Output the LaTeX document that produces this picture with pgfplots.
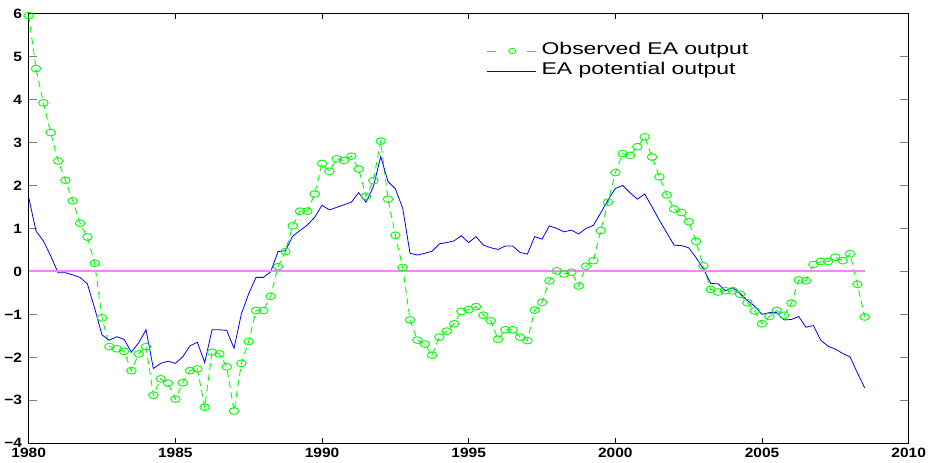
\documentclass[border=0pt]{standalone}
\usepackage{fontspec}
\setmainfont{Liberation Sans}
\usepackage{graphicx}
\usepackage{pgfplots}
\pgfplotsset{compat=1.18}
\usepackage{pgfplotstable}

\pgfplotstableread{
t obs pot
1980.00 5.95 1.72
1980.25 4.72 0.94
1980.50 3.92 0.71
1980.75 3.23 0.36
1981.00 2.57 -0.03
1981.25 2.12 -0.03
1981.50 1.64 -0.08
1981.75 1.12 -0.14
1982.00 0.80 -0.29
1982.25 0.19 -0.86
1982.50 -1.08 -1.48
1982.75 -1.75 -1.60
1983.00 -1.80 -1.52
1983.25 -1.86 -1.58
1983.50 -2.31 -1.88
1983.75 -1.92 -1.66
1984.00 -1.75 -1.36
1984.25 -2.88 -2.26
1984.50 -2.50 -2.14
1984.75 -2.60 -2.09
1985.00 -2.97 -2.14
1985.25 -2.59 -1.99
1985.50 -2.31 -1.73
1985.75 -2.27 -1.65
1986.00 -3.16 -2.12
1986.25 -1.88 -1.36
1986.50 -1.92 -1.36
1986.75 -2.22 -1.37
1987.00 -3.25 -1.79
1987.25 -2.14 -0.99
1987.50 -1.63 -0.52
1987.75 -0.91 -0.14
1988.00 -0.91 -0.14
1988.25 -0.58 -0.01
1988.50 0.11 0.46
1988.75 0.46 0.48
1989.00 1.06 0.82
1989.25 1.40 0.95
1989.50 1.40 1.08
1989.75 1.80 1.26
1990.00 2.51 1.54
1990.25 2.33 1.43
1990.50 2.62 1.49
1990.75 2.58 1.55
1991.00 2.68 1.61
1991.25 2.38 1.83
1991.50 1.75 1.61
1991.75 2.11 1.97
1992.00 3.03 2.67
1992.25 1.68 2.09
1992.50 0.84 1.92
1992.75 0.09 1.47
1993.00 -1.13 0.42
1993.25 -1.60 0.38
1993.50 -1.69 0.42
1993.75 -1.95 0.47
1994.00 -1.53 0.64
1994.25 -1.39 0.67
1994.50 -1.22 0.71
1994.75 -0.93 0.83
1995.00 -0.89 0.67
1995.25 -0.82 0.81
1995.50 -1.02 0.61
1995.75 -1.15 0.55
1996.00 -1.58 0.51
1996.25 -1.36 0.59
1996.50 -1.36 0.59
1996.75 -1.53 0.44
1997.00 -1.61 0.40
1997.25 -0.90 0.81
1997.50 -0.72 0.75
1997.75 -0.22 1.06
1998.00 0.01 1.00
1998.25 -0.06 0.92
1998.50 -0.02 0.96
1998.75 -0.34 0.87
1999.00 0.12 1.00
1999.25 0.25 1.07
1999.50 0.95 1.36
1999.75 1.61 1.66
2000.00 2.30 1.93
2000.25 2.74 2.00
2000.50 2.70 1.83
2000.75 2.90 1.68
2001.00 3.13 1.80
2001.25 2.66 1.50
2001.50 2.20 1.19
2001.75 1.78 0.90
2002.00 1.45 0.61
2002.25 1.37 0.60
2002.50 1.16 0.55
2002.75 0.70 0.32
2003.00 0.13 0.06
2003.25 -0.42 -0.28
2003.50 -0.48 -0.29
2003.75 -0.45 -0.45
2004.00 -0.45 -0.38
2004.25 -0.53 -0.51
2004.50 -0.73 -0.68
2004.75 -0.92 -0.81
2005.00 -1.22 -1.00
2005.25 -1.05 -0.96
2005.50 -0.91 -0.96
2005.75 -1.02 -1.13
2006.00 -0.74 -1.12
2006.25 -0.20 -1.05
2006.50 -0.22 -1.30
2006.75 0.16 -1.26
2007.00 0.23 -1.60
2007.25 0.23 -1.74
2007.50 0.33 -1.81
2007.75 0.25 -1.91
2008.00 0.41 -1.99
2008.25 -0.30 -2.36
2008.50 -1.06 -2.71
}\datatable

\definecolor{obsgreen}{RGB}{0,255,0}
\definecolor{potblue}{RGB}{0,0,255}
\definecolor{zeropink}{RGB}{250,130,250}
\newcommand\tl[1]{\scalebox{1.15}[1]{\bfseries #1}}
\newcommand\lgt[1]{\scalebox{1.35}[1]{#1}}
\pgfdeclareplotmark{oval}{%
  \pgfpathellipse{\pgfpointorigin}{\pgfqpoint{1.4\pgfplotmarksize}{0pt}}{\pgfqpoint{0pt}{\pgfplotmarksize}}%
  \pgfusepathqstroke}
\pgfplotsset{
  obsleg/.style={legend image code/.code={
    \draw[##1, dash pattern=on 9pt off 31pt] (0pt,0pt) -- (49pt,0pt);
    \draw[##1, mark size=2.6pt] plot coordinates {(25pt,0pt)};}},
  potleg/.style={legend image code/.code={
    \draw[##1] (0pt,0pt) -- (49pt,0pt);}},
}

\begin{document}
\begin{tikzpicture}
\useasboundingbox (0,0) rectangle (932pt,463pt);
\begin{axis}[
  at={(28.7pt,19.7pt)}, anchor=south west,
  scale only axis, width=880pt, height=429.8pt,
  xmin=1980, xmax=2010, ymin=-4, ymax=6,
  xtick={1980,1985,1990,1995,2000,2005,2010},
  ytick={-4,-3,-2,-1,0,1,2,3,4,5,6},
  xticklabels={\tl{1980},\tl{1985},\tl{1990},\tl{1995},\tl{2000},\tl{2005},\tl{2010}},
  yticklabels={\tl{−4},\tl{−3},\tl{−2},\tl{−1},\tl{0},\tl{1},\tl{2},\tl{3},\tl{4},\tl{5},\tl{6}},
  tick align=inside,
  axis line style={line width=1.1pt},
  xtick style={black, line width=0.9pt},
  ytick style={gray, line width=0.9pt},
  xtick style={/pgfplots/major tick length=5pt},
  ytick style={/pgfplots/major tick length=8.5pt},
  xticklabel style={font=\fontsize{13.5}{16}\selectfont, inner sep=0pt, yshift=-4.6pt},
  yticklabel style={font=\fontsize{13.5}{16}\selectfont, inner sep=0pt, xshift=-6.5pt},
  clip=false,
  legend cell align=left,
  legend style={at={(axis description cs:0.5205,0.9314)}, anchor=north west,
    draw=none, fill=none, inner sep=0pt, outer sep=0pt, row sep=4pt, column sep=5pt,
    font=\fontsize{17}{20}\selectfont,
    nodes={inner sep=0pt, text height=12pt, text depth=4pt}},
]
\addplot[color=obsgreen, line width=0.9pt, dash pattern=on 6.5pt off 4.5pt,
  mark=oval, mark size=3.4pt, mark options={solid}, obsleg]
  table[x=t,y=obs] {\datatable};
\addlegendentry{\lgt{Observed EA output}}
\addplot[color=potblue, line width=0.8pt, potleg]
  table[x=t,y=pot] {\datatable};
\addlegendentry{\lgt{EA potential output}}
\addplot[color=zeropink, line width=1.8pt, forget plot] coordinates {(1980,0) (2008.5,0)};
\end{axis}
\end{tikzpicture}
\end{document}
